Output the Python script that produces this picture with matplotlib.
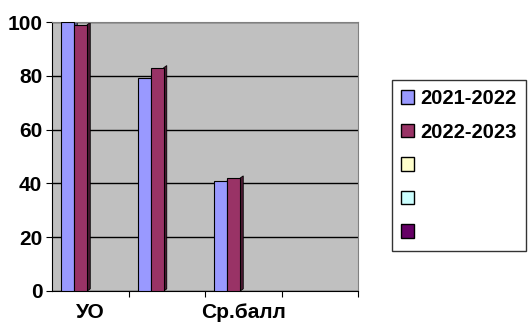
import numpy as np
import matplotlib.pyplot as plt
from matplotlib.patches import Patch

plt.rcParams['font.family'] = ['Liberation Sans', 'DejaVu Sans']

categories = ['УО', '', 'Ср.балл', '']
series_names = ['2021-2022', '2022-2023', '', '', '']
values_2122 = [100, 79, 41, np.nan]
values_2223 = [99, 83, 42, np.nan]
colors = ['#9999FF', '#993366', '#FFFFCC', '#CCFFFF', '#660066']

fig = plt.figure(figsize=(5.31, 3.27), dpi=100)
ax = fig.add_axes([52 / 531, 36 / 327, 306 / 531, 269 / 327])
ax.set_facecolor('#C0C0C0')

x = np.arange(len(categories))
w = 0.17
b1 = ax.bar(x - 0.38, values_2122, w, align='edge', color=colors[0],
            edgecolor='black', linewidth=0.8, zorder=3)
b2 = ax.bar(x - 0.38 + w, values_2223, w, align='edge', color=colors[1],
            edgecolor='black', linewidth=0.8, zorder=3)

# thin darker side faces for the 3D look
for bars, side in ((b1, '#5c5c99'), (b2, '#4d1a33')):
    for r in bars:
        h = r.get_height()
        if np.isnan(h):
            continue
        x1 = r.get_x() + r.get_width()
        ax.fill([x1, x1 + 0.04, x1 + 0.04, x1], [0, 0.8, h + 0.8, h],
                color=side, edgecolor='black', lw=0.6, zorder=2)

ax.set_xlim(-0.5, 3.5)
ax.set_ylim(0, 100)
yt = np.arange(0, 101, 20)
ax.set_yticks(yt)
ax.set_yticklabels([str(v) for v in yt], fontsize=15, fontweight='bold')
ax.yaxis.grid(True, color='black', linewidth=1)
ax.set_axisbelow(True)
ax.set_xticks(np.arange(0.5, 4, 1))
ax.set_xticklabels([])
ax.set_xticks(x, minor=True)
ax.set_xticklabels(categories, minor=True, fontsize=15, fontweight='bold')
ax.tick_params(axis='x', which='minor', length=0, pad=9)
ax.tick_params(axis='x', which='major', length=4, direction='out')
ax.tick_params(axis='y', length=4, pad=3)

for s in ('top', 'right'):
    ax.spines[s].set_color('#808080')
ax.spines['left'].set_color('black')
ax.spines['bottom'].set_color('black')

handles = [Patch(facecolor=c, edgecolor='black', linewidth=1) for c in colors]
leg = fig.legend(handles, series_names, loc='upper left',
                 bbox_to_anchor=(392 / 531, 1 - 80 / 327),
                 frameon=True, fancybox=False, edgecolor='black',
                 borderaxespad=0, borderpad=0.45, labelspacing=0.72,
                 handlelength=0.65, handleheight=0.65, handletextpad=0.3,
                 prop={'size': 14.5, 'weight': 'bold'})
leg.get_frame().set_linewidth(1)

fig.savefig('out.png', dpi=100)
